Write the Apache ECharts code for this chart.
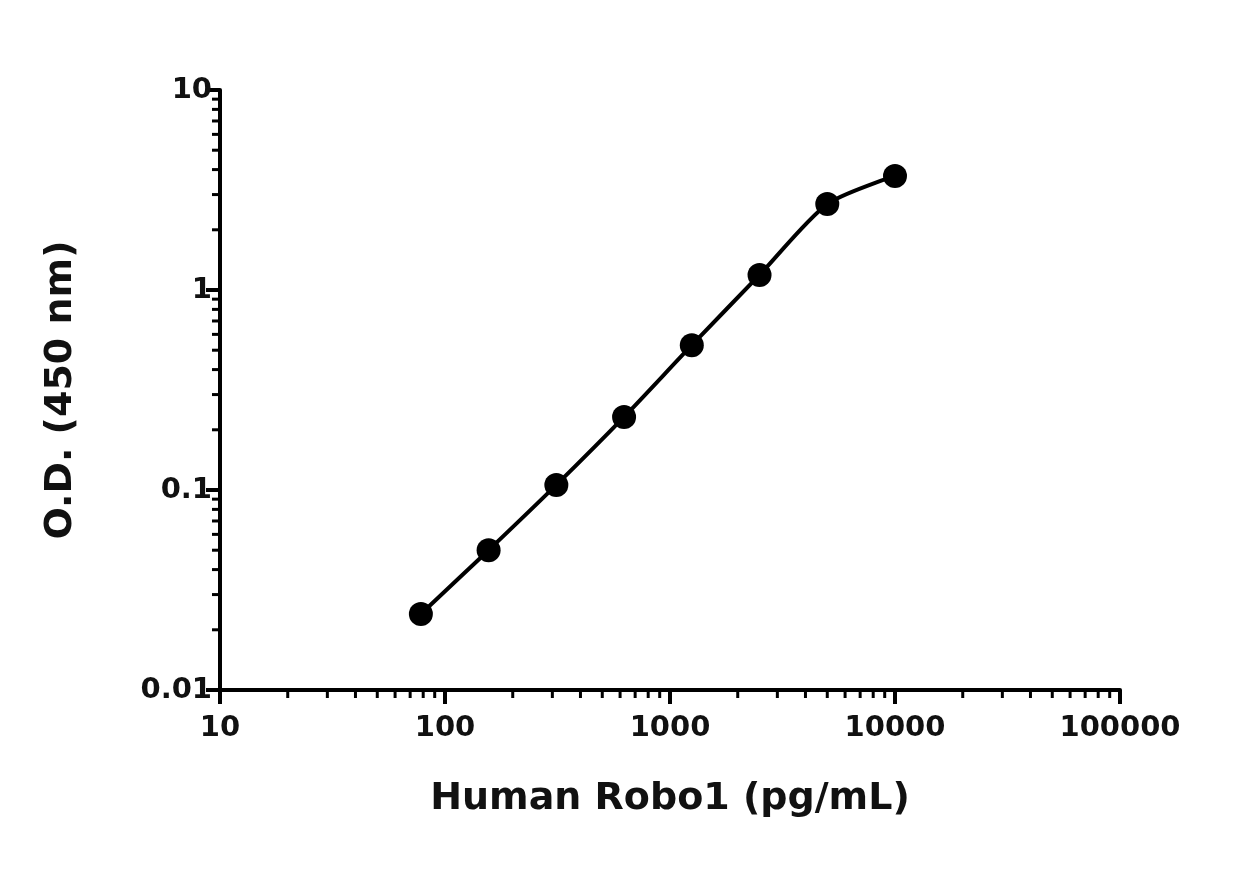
<!DOCTYPE html>
<html><head><meta charset="utf-8">
<script src="https://cdn.jsdelivr.net/npm/echarts@6/dist/echarts.min.js"></script>
<style>html,body{margin:0;background:#fff}#c{width:1245px;height:873px}</style>
</head><body><div id="c"></div>
<script>
var concentrations = [78.125, 156.25, 312.5, 625, 1250, 2500, 5000, 10000];
var od = [0.024, 0.050, 0.106, 0.232, 0.53, 1.19, 2.69, 3.72];
var xTickLabels = ['10','100','1000','10000','100000'];
var yTickLabels = ['0.01','0.1','1','10'];
var xMinor = [], yMinor = [];
[10,100,1000,10000].forEach(function(d){for(var k=2;k<=9;k++)xMinor.push(k*d);});
[0.01,0.1,1].forEach(function(d){for(var k=2;k<=9;k++)yMinor.push(+(k*d).toPrecision(3));});
var pts = concentrations.map(function(c,i){return [c,od[i]];});
var font = 'DejaVu Sans';
function lab(list,v){var e=Math.round(Math.log10(v));var i=list.map(Number).map(function(x){return Math.round(Math.log10(x));}).indexOf(e);return i>=0?list[i]:'';}
var chart = echarts.init(document.getElementById('c'));
chart.setOption({
  animation:false,
  grid:{left:220,right:125,top:90,bottom:183},
  xAxis:{type:'log',min:10,max:100000,logBase:10,
    name:'Human Robo1 (pg/mL)',nameLocation:'middle',nameGap:90,
    nameTextStyle:{fontFamily:font,fontWeight:'bold',fontSize:38,color:'#111'},
    axisLine:{lineStyle:{color:'#000',width:4}},
    axisTick:{length:14,lineStyle:{color:'#000',width:4}},
    axisLabel:{fontFamily:font,fontWeight:'bold',fontSize:29,color:'#111',margin:24,
      formatter:function(v){return lab(xTickLabels,v);}},
    splitLine:{show:false}},
  yAxis:{type:'log',min:0.01,max:10,logBase:10,
    name:'O.D. (450 nm)',nameLocation:'middle',nameGap:140,
    nameTextStyle:{fontFamily:font,fontWeight:'bold',fontSize:38,color:'#111'},
    axisLine:{lineStyle:{color:'#000',width:4}},
    axisTick:{length:14,lineStyle:{color:'#000',width:4}},
    axisLabel:{fontFamily:font,fontWeight:'bold',fontSize:29,color:'#111',margin:8,
      formatter:function(v){return lab(yTickLabels,v);}},
    splitLine:{show:false}},
  series:[
    {type:'line',data:pts,smooth:0.25,showSymbol:false,lineStyle:{color:'#000',width:4},z:2},
    {type:'scatter',data:pts,symbolSize:24,itemStyle:{color:'#000',opacity:1},z:3},
    {type:'custom',data:xMinor.map(function(v){return [v];}),silent:true,clip:false,
      renderItem:function(p,api){var c=api.coord([api.value(0),0.01]);
        return {type:'line',shape:{x1:c[0],y1:c[1],x2:c[0],y2:c[1]+8},style:{stroke:'#000',lineWidth:3}};}},
    {type:'custom',data:yMinor.map(function(v){return [10,v];}),silent:true,clip:false,
      renderItem:function(p,api){var c=api.coord([10,api.value(1)]);
        return {type:'line',shape:{x1:c[0],y1:c[1],x2:c[0]-8,y2:c[1]},style:{stroke:'#000',lineWidth:3}};}}
  ]
});
</script></body></html>
